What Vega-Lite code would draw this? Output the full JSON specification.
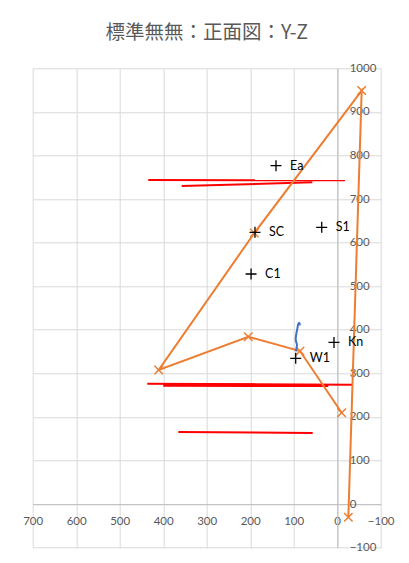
{
  "$schema": "https://vega.github.io/schema/vega-lite/v6.json",
  "autosize": "none",
  "width": 348,
  "height": 479.4,
  "padding": {"left": 32.7, "top": 68.3, "right": 28.3, "bottom": 15.3},
  "background": "white",
  "title": {
    "text": "標準無無：正面図：Y-Z",
    "font": "Noto Sans CJK JP",
    "fontSize": 19.5,
    "fontWeight": "normal",
    "color": "#595959",
    "anchor": "middle",
    "frame": "group",
    "offset": 19
  },
  "config": {
    "view": {"stroke": null},
    "axis": {
      "labelFont": "Lato",
      "labelFontSize": 11.5,
      "labelColor": "#595959",
      "labelFlush": false,
      "labelOverlap": false,
      "format": "d",
      "gridColor": "#d9d9d9",
      "gridWidth": 1,
      "domainColor": "#bfbfbf",
      "domainWidth": 1,
      "ticks": false,
      "tickSize": 0,
      "title": null
    }
  },
  "datasets": {
    "orange": [
      {"o": 1, "x": -25.6, "y": -30.3},
      {"o": 2, "x": -56.3, "y": 949},
      {"o": 3, "x": 190.5, "y": 622},
      {"o": 4, "x": 410.3, "y": 307.7},
      {"o": 5, "x": 204.4, "y": 384.1},
      {"o": 6, "x": 85.5, "y": 351.3},
      {"o": 7, "x": -10.3, "y": 209.7}
    ],
    "red": [
      {"seg": "L1", "x": 434.3, "y": 743.7},
      {"seg": "L1", "x": -18, "y": 743},
      {"seg": "L2", "x": 357.5, "y": 730},
      {"seg": "L2", "x": 57.2, "y": 738.4},
      {"seg": "L3", "x": 436.6, "y": 276.3},
      {"seg": "L3", "x": -34.7, "y": 274},
      {"seg": "L4", "x": 399.8, "y": 273.3},
      {"seg": "L4", "x": 20.5, "y": 272.6},
      {"seg": "L5", "x": 365.3, "y": 165.4},
      {"seg": "L5", "x": 56.3, "y": 163.1}
    ],
    "blue": [
      {"o": 1, "x": 95.4, "y": 350.6},
      {"o": 2, "x": 92.4, "y": 364.4},
      {"o": 3, "x": 95.4, "y": 377.3},
      {"o": 4, "x": 94, "y": 390.3},
      {"o": 5, "x": 91.7, "y": 402.5},
      {"o": 6, "x": 89.4, "y": 413.3},
      {"o": 7, "x": 87.1, "y": 416.3},
      {"o": 8, "x": 85.5, "y": 410.3}
    ],
    "pts": [
      {"name": "Ea", "x": 140.7, "y": 776.5},
      {"name": "SC", "x": 189, "y": 623.7},
      {"name": "S1", "x": 35.6, "y": 635},
      {"name": "C1", "x": 198, "y": 528},
      {"name": "Kn", "x": 7.4, "y": 371},
      {"name": "W1", "x": 95.4, "y": 334.5}
    ]
  },
  "layer": [
    {
      "data": {"name": "red"},
      "transform": [{"filter": "datum.seg !== 'L4'"}],
      "mark": {"type": "line", "color": "#ff0000", "strokeWidth": 2},
      "encoding": {
        "x": {
          "field": "x", "type": "quantitative",
          "scale": {"domain": [-100, 700], "reverse": true, "nice": false, "zero": false},
          "axis": {"orient": "bottom", "offset": -43.6, "values": [-100, 0, 100, 200, 300, 400, 500, 600, 700], "grid": true, "labelPadding": 11, "labelBaseline": "top"}
        },
        "y": {
          "field": "y", "type": "quantitative",
          "scale": {"domain": [-100, 1000], "nice": false, "zero": false},
          "axis": {"orient": "right", "offset": -43.5, "values": [-100, 0, 100, 200, 300, 400, 500, 600, 700, 800, 900, 1000], "grid": true, "labelPadding": 12, "labelAlign": "left"}
        },
        "detail": {"field": "seg"}
      }
    },
    {
      "data": {"name": "red"},
      "transform": [{"filter": "datum.seg === 'L4'"}],
      "mark": {"type": "line", "color": "#ff0000", "strokeWidth": 3.5},
      "encoding": {
        "x": {"field": "x", "type": "quantitative"},
        "y": {"field": "y", "type": "quantitative"},
        "detail": {"field": "seg"}
      }
    },
    {
      "data": {"name": "orange"},
      "mark": {"type": "line", "color": "#ed7d31", "strokeWidth": 2},
      "encoding": {
        "x": {"field": "x", "type": "quantitative"},
        "y": {"field": "y", "type": "quantitative"},
        "order": {"field": "o", "type": "quantitative"}
      }
    },
    {
      "data": {"name": "orange"},
      "mark": {"type": "point", "shape": "M-1,-1L1,1M1,-1L-1,1", "size": 72, "filled": false, "stroke": "#ed7d31", "strokeWidth": 1.5, "opacity": 1},
      "encoding": {
        "x": {"field": "x", "type": "quantitative"},
        "y": {"field": "y", "type": "quantitative"}
      }
    },
    {
      "data": {"name": "blue"},
      "mark": {"type": "line", "color": "#4472c4", "strokeWidth": 2, "interpolate": "catmull-rom"},
      "encoding": {
        "x": {"field": "x", "type": "quantitative"},
        "y": {"field": "y", "type": "quantitative"},
        "order": {"field": "o", "type": "quantitative"}
      }
    },
    {
      "data": {"name": "pts"},
      "mark": {"type": "point", "shape": "M-1,0H1M0,-1V1", "size": 121, "filled": false, "stroke": "#000000", "strokeWidth": 1.3, "opacity": 1},
      "encoding": {
        "x": {"field": "x", "type": "quantitative"},
        "y": {"field": "y", "type": "quantitative"}
      }
    },
    {
      "data": {"name": "pts"},
      "mark": {"type": "text", "align": "left", "baseline": "middle", "dx": 14, "font": "Lato", "fontSize": 12.5, "color": "#000000"},
      "encoding": {
        "x": {"field": "x", "type": "quantitative"},
        "y": {"field": "y", "type": "quantitative"},
        "text": {"field": "name"}
      }
    }
  ]
}
